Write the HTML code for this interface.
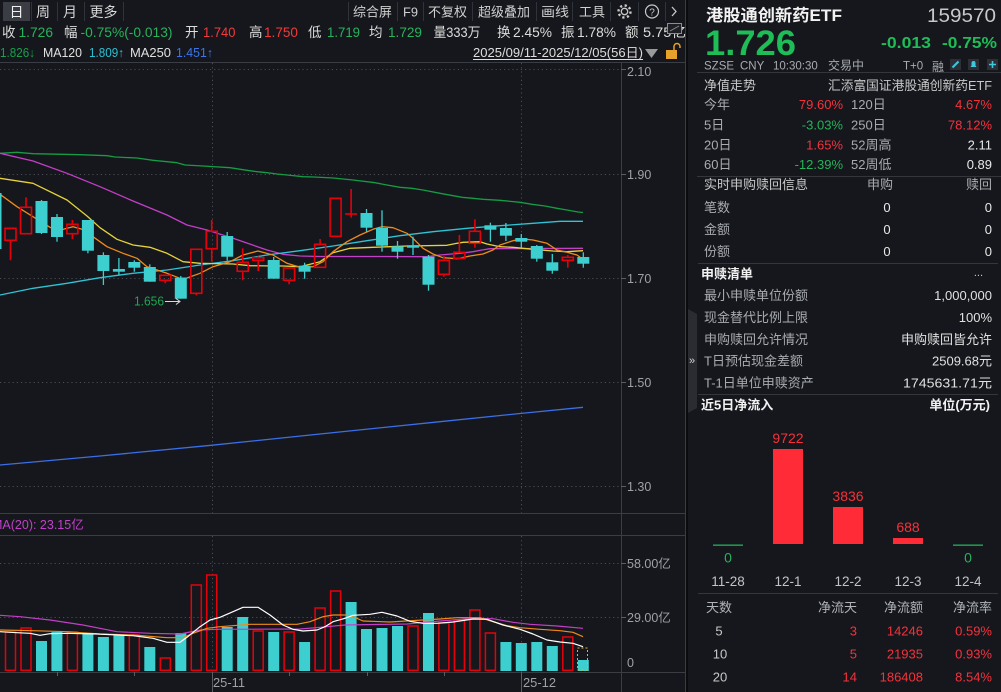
<!DOCTYPE html>
<html><head><meta charset="utf-8"><style>
html,body{margin:0;padding:0;background:#15171c;}
svg{display:block;}
</style></head><body>
<svg width="1001" height="692" viewBox="0 0 1001 692" xmlns="http://www.w3.org/2000/svg" font-family="'Liberation Sans','Noto Sans CJK SC',sans-serif">
<rect x="0" y="0" width="1001" height="692" fill="#15171c"/>

<!-- ===== Toolbar ===== -->
<rect x="3" y="2" width="27" height="19" fill="#3a3d44"/>
<g font-size="14" fill="#d8d8d8" text-anchor="middle">
<text x="16.5" y="17" fill="#f0f0f0">日</text>
<text x="43" y="17">周</text>
<text x="70" y="17">月</text>
<text x="103.5" y="17">更多</text>
</g>
<g stroke="#30333a" stroke-width="1">
<line x1="31.5" y1="2" x2="31.5" y2="21"/><line x1="57.5" y1="2" x2="57.5" y2="21"/>
<line x1="84.5" y1="2" x2="84.5" y2="21"/><line x1="123.5" y1="2" x2="123.5" y2="21"/>
<line x1="348.5" y1="2" x2="348.5" y2="21"/><line x1="397.5" y1="2" x2="397.5" y2="21"/>
<line x1="423.5" y1="2" x2="423.5" y2="21"/><line x1="472.5" y1="2" x2="472.5" y2="21"/>
<line x1="536.5" y1="2" x2="536.5" y2="21"/><line x1="572.5" y1="2" x2="572.5" y2="21"/>
<line x1="610.5" y1="2" x2="610.5" y2="21"/><line x1="638.5" y1="2" x2="638.5" y2="21"/>
<line x1="665.5" y1="2" x2="665.5" y2="21"/>
</g>
<g font-size="13" fill="#d0d0d0">
<text x="353" y="16.5" textLength="39" lengthAdjust="spacingAndGlyphs">综合屏</text>
<text x="403" y="16.5" textLength="15" lengthAdjust="spacingAndGlyphs">F9</text>
<text x="428" y="16.5" textLength="39" lengthAdjust="spacingAndGlyphs">不复权</text>
<text x="478" y="16.5" textLength="52" lengthAdjust="spacingAndGlyphs">超级叠加</text>
<text x="541" y="16.5" textLength="28" lengthAdjust="spacingAndGlyphs">画线</text>
<text x="579" y="16.5" textLength="26" lengthAdjust="spacingAndGlyphs">工具</text>
</g>
<circle cx="624.5" cy="11.5" r="6" fill="none" stroke="#c8c8c8" stroke-width="2.4" stroke-dasharray="2.2,2.5"/>
<circle cx="624.5" cy="11.5" r="3.2" fill="none" stroke="#c8c8c8" stroke-width="1.3"/>
<circle cx="652" cy="11.5" r="6.5" fill="none" stroke="#c8c8c8" stroke-width="1.2"/>
<text x="652" y="15.5" font-size="10" fill="#c8c8c8" text-anchor="middle">?</text>
<path d="M672,7 L676,11.5 L672,16" fill="none" stroke="#c8c8c8" stroke-width="1.3"/>

<!-- ===== Row 2 quote ===== -->
<g font-size="13.5">
<text x="2" y="37" fill="#dcdcdc">收</text>
<text x="18.5" y="37" fill="#27b35b" textLength="34.5" lengthAdjust="spacingAndGlyphs">1.726</text>
<text x="64" y="37" fill="#dcdcdc">幅</text>
<text x="80.5" y="37" fill="#27b35b" textLength="92" lengthAdjust="spacingAndGlyphs">-0.75%(-0.013)</text>
<text x="185" y="37" fill="#dcdcdc">开</text>
<text x="203" y="37" fill="#f23a3a" textLength="32.5" lengthAdjust="spacingAndGlyphs">1.740</text>
<text x="249" y="37" fill="#dcdcdc">高</text>
<text x="264" y="37" fill="#f23a3a" textLength="34" lengthAdjust="spacingAndGlyphs">1.750</text>
<text x="308" y="37" fill="#dcdcdc">低</text>
<text x="327" y="37" fill="#27b35b" textLength="33" lengthAdjust="spacingAndGlyphs">1.719</text>
<text x="369" y="37" fill="#dcdcdc">均</text>
<text x="388" y="37" fill="#27b35b" textLength="34" lengthAdjust="spacingAndGlyphs">1.729</text>
<text x="433.5" y="37" fill="#dcdcdc" textLength="47" lengthAdjust="spacingAndGlyphs">量333万</text>
<text x="497" y="37" fill="#dcdcdc">换</text>
<text x="513" y="37" fill="#dcdcdc" textLength="39" lengthAdjust="spacingAndGlyphs">2.45%</text>
<text x="561" y="37" fill="#dcdcdc">振</text>
<text x="577" y="37" fill="#dcdcdc" textLength="39" lengthAdjust="spacingAndGlyphs">1.78%</text>
<text x="625" y="37" fill="#dcdcdc">额</text>
<text x="643" y="37" fill="#dcdcdc" textLength="43" lengthAdjust="spacingAndGlyphs">5.75亿</text>
</g>
<rect x="667.5" y="23.5" width="14" height="10" fill="#1d1f24" stroke="#8a8d93" stroke-width="1"/>
<line x1="670" y1="31" x2="679" y2="26" stroke="#8a8d93" stroke-width="1"/>

<!-- ===== Row 3 MA legend ===== -->
<g font-size="12.5">
<text x="0" y="57" fill="#16a04c" textLength="35" lengthAdjust="spacingAndGlyphs">1.826↓</text>
<text x="43" y="57" fill="#e0e0e0" textLength="39" lengthAdjust="spacingAndGlyphs">MA120</text>
<text x="89" y="57" fill="#29c0d3" textLength="35" lengthAdjust="spacingAndGlyphs">1.809↑</text>
<text x="130" y="57" fill="#e0e0e0" textLength="41" lengthAdjust="spacingAndGlyphs">MA250</text>
<text x="176" y="57" fill="#3d74e8" textLength="37" lengthAdjust="spacingAndGlyphs">1.451↑</text>
<text x="473" y="57" fill="#dedede" textLength="170" lengthAdjust="spacingAndGlyphs">2025/09/11-2025/12/05(56日)</text>
</g>
<line x1="473" y1="59.5" x2="643" y2="59.5" stroke="#dedede" stroke-width="1"/>
<polygon points="645,49 658,49 651.5,58" fill="#9a9a9a"/>
<rect x="666" y="50" width="11" height="9" fill="#e8a12a"/>
<path d="M674,50 L674,46.5 A3,3 0 0 1 680,46.5 L680,48" fill="none" stroke="#e8a12a" stroke-width="1.5"/>

<!-- ===== Frame lines ===== -->
<g stroke="#3a3d43" stroke-width="1">
<line x1="0" y1="62.5" x2="685" y2="62.5"/>
<line x1="0" y1="513.5" x2="685" y2="513.5"/>
<line x1="0" y1="535.5" x2="685" y2="535.5"/>
<line x1="0" y1="672.5" x2="685" y2="672.5"/>
<line x1="621.5" y1="62" x2="621.5" y2="692"/>
<line x1="685.5" y1="0" x2="685.5" y2="692"/>
</g>
<rect x="686" y="0" width="2" height="692" fill="#0b0c0e"/>

<!-- grid dotted -->
<g stroke="#4a4d54" stroke-width="1" stroke-dasharray="1.2,3">
<line x1="0" y1="69.5" x2="621" y2="69.5"/>
<line x1="0" y1="174.5" x2="621" y2="174.5"/>
<line x1="0" y1="278.5" x2="621" y2="278.5"/>
<line x1="0" y1="382.5" x2="621" y2="382.5"/>
<line x1="0" y1="486.5" x2="621" y2="486.5"/>
<line x1="0" y1="563.5" x2="621" y2="563.5"/>
<line x1="0" y1="617.5" x2="621" y2="617.5"/>
<line x1="212.5" y1="63" x2="212.5" y2="513"/>
<line x1="521.5" y1="63" x2="521.5" y2="513"/>
<line x1="212.5" y1="536" x2="212.5" y2="672"/>
<line x1="521.5" y1="536" x2="521.5" y2="672"/>
</g>
<g stroke="#5a5d63" stroke-width="1">
<line x1="621" y1="69.5" x2="626" y2="69.5"/><line x1="621" y1="174.5" x2="626" y2="174.5"/>
<line x1="621" y1="278.5" x2="626" y2="278.5"/><line x1="621" y1="382.5" x2="626" y2="382.5"/>
<line x1="621" y1="486.5" x2="626" y2="486.5"/><line x1="621" y1="563.5" x2="626" y2="563.5"/>
<line x1="621" y1="617.5" x2="626" y2="617.5"/>
<line x1="57.5" y1="672" x2="57.5" y2="676"/><line x1="134.5" y1="672" x2="134.5" y2="676"/>
<line x1="289.5" y1="672" x2="289.5" y2="676"/><line x1="367.5" y1="672" x2="367.5" y2="676"/>
<line x1="444.5" y1="672" x2="444.5" y2="676"/>
<line x1="212.5" y1="672" x2="212.5" y2="692"/><line x1="521.5" y1="672" x2="521.5" y2="692"/>
</g>

<!-- axis labels -->
<g font-size="12.5" fill="#9ea1a6">
<text x="627" y="76">2.10</text>
<text x="627" y="179">1.90</text>
<text x="627" y="283">1.70</text>
<text x="627" y="387">1.50</text>
<text x="627" y="491">1.30</text>
<text x="627" y="568">58.00亿</text>
<text x="627" y="622">29.00亿</text>
<text x="627" y="667">0</text>
<text x="213" y="687" textLength="32" lengthAdjust="spacingAndGlyphs">25-11</text>
<text x="523" y="687" textLength="33" lengthAdjust="spacingAndGlyphs">25-12</text>
</g>
<text x="-8" y="529" font-size="12.5" fill="#c440cc">MA(20): 23.15亿</text>

<!-- ===== MA lines main ===== -->
<g fill="none" stroke-width="1.3" stroke-linejoin="round">
<polyline stroke="#159c44" points="0,153.3 17,152.3 33,153.7 80,154.7 107,155.7 115,157 137,158 153,160.3 167,161.7 177,162.7 185,165 203,166 230,167.7 243,169.7 257,171.7 267,172.7 277,174 287,175 303,176.7 314,177 333,178 353,180 375,182.7 387,185 400,187.3 412,188.3 423,190 442,193.7 462,197.3 473,198.3 483,199.3 500,200.3 520,202.3 532,204.3 545,206 557,208.3 567,210 578,212 583,212.5"/>
<polyline stroke="#c43ec8" points="0,153.3 33,161 67,173.3 100,186.7 133,201 167,215 187,225 207,230 233,238.3 267,250 283,254.3 300,256 320,256.5 380,256.5 427,256.7 440,255 460,253.3 473,251.7 482,250 490,248.7 583,248.3"/>
<polyline stroke="#2ec4d6" points="0,295 33,288.3 67,283.3 100,277.7 133,273.3 167,270 200,265 233,260.7 267,255 300,250.7 333,246 367,240.7 400,235.7 433,231.7 467,228.3 500,225.7 533,223.3 560,221.3 583,221.3"/>
<polyline stroke="#3b6fe6" points="0,465 100,456 211,445.3 320,434 440,421.7 520,413.5 583,407.3"/>
<polyline stroke="#e6d23a" points="0,178.3 33,183.3 67,200 87,216 100,227.7 117,239.3 133,245 150,247.3 167,253.3 183,261.7 200,263.3 233,264 250,265.7 283,266 300,266.7 320,261.7 333,252.7 350,248.3 373,247.3 390,246.7 407,246 447,245.3 457,243.3 463,242.3 480,241.7 487,244 500,246.7 513,247.3 533,249.3 553,251 567,251.7 583,250.7"/>
<polyline stroke="#f08a1a" points="0,194.3 17,206.7 33,216.7 50,227.3 58,230.7 67,228.3 73,226.7 82,229.3 93,236.7 107,246.7 123,253.3 137,258.3 147,266.7 157,270 167,273.3 180,278.3 187,278 200,273.3 213,266.7 230,261.7 243,255 258,251 273,255 287,263.3 300,267.3 313,266.7 323,261.7 333,251.7 347,241.7 360,235 373,229.3 382,226.7 393,227.7 407,233.3 413,238.3 423,248.3 433,254 443,257.7 457,258.7 470,256 483,254 493,250 500,245 513,240.7 523,239 533,240 547,243.3 557,250 567,252.3 577,255 583,259.3"/>
</g>

<!-- ===== Candles ===== -->
<rect x="0" y="193" width="1.5" height="56" fill="#3dcfcf"/>
<g stroke="#3dcfcf" stroke-width="1.3">
<line x1="41.5" y1="200" x2="41.5" y2="234"/>
<line x1="57" y1="214" x2="57" y2="241.7"/>
<line x1="87.9" y1="220" x2="87.9" y2="253.3"/>
<line x1="103.4" y1="252.3" x2="103.4" y2="285"/>
<line x1="118.9" y1="258" x2="118.9" y2="275"/>
<line x1="134.3" y1="260.3" x2="134.3" y2="271.7"/>
<line x1="149.8" y1="264.3" x2="149.8" y2="281.7"/>
<line x1="180.8" y1="276" x2="180.8" y2="298.7"/>
<line x1="227.2" y1="232" x2="227.2" y2="260.7"/>
<line x1="273.7" y1="257" x2="273.7" y2="278.7"/>
<line x1="304.6" y1="262.7" x2="304.6" y2="278.7"/>
<line x1="366.5" y1="209" x2="366.5" y2="231.7"/>
<line x1="382" y1="210.3" x2="382" y2="251.7"/>
<line x1="397.5" y1="241" x2="397.5" y2="258.7"/>
<line x1="413" y1="236.7" x2="413" y2="255"/>
<line x1="428.5" y1="255" x2="428.5" y2="290.7"/>
<line x1="490.4" y1="222.7" x2="490.4" y2="241.7"/>
<line x1="505.9" y1="223" x2="505.9" y2="241"/>
<line x1="521.3" y1="234" x2="521.3" y2="247.7"/>
<line x1="536.8" y1="245" x2="536.8" y2="261.7"/>
<line x1="552.3" y1="254" x2="552.3" y2="273.7"/>
<line x1="583.3" y1="252.3" x2="583.3" y2="267.7"/>
</g>
<g fill="#3dcfcf">
<rect x="35.5" y="201" width="12" height="32"/>
<rect x="51" y="217" width="12" height="20"/>
<rect x="81.9" y="220" width="12" height="30.7"/>
<rect x="97.4" y="255" width="12" height="16"/>
<rect x="112.9" y="269" width="12" height="2.7"/>
<rect x="128.3" y="262" width="12" height="5.7"/>
<rect x="143.8" y="267" width="12" height="14.7"/>
<rect x="174.8" y="277.7" width="12" height="21"/>
<rect x="221.2" y="236" width="12" height="20.7"/>
<rect x="267.7" y="260" width="12" height="18.7"/>
<rect x="298.6" y="265.7" width="12" height="6"/>
<rect x="360.5" y="213" width="12" height="14.7"/>
<rect x="376" y="228" width="12" height="17.7"/>
<rect x="391.5" y="246.3" width="12" height="5.4"/>
<rect x="407" y="245.3" width="12" height="2.4"/>
<rect x="422.5" y="256.7" width="12" height="28"/>
<rect x="484.4" y="225.3" width="12" height="4.4"/>
<rect x="499.9" y="228" width="12" height="7.7"/>
<rect x="515.3" y="238" width="12" height="3.7"/>
<rect x="530.8" y="246" width="12" height="12.7"/>
<rect x="546.3" y="262.3" width="12" height="8.4"/>
<rect x="577.3" y="257" width="12" height="6.7"/>
</g>
<g stroke="#e6000c" stroke-width="1.6" fill="none">
<line x1="10.5" y1="240.3" x2="10.5" y2="260.3"/>
<rect x="5" y="228.3" width="11" height="12"/>
<line x1="26" y1="197.3" x2="26" y2="207.3"/>
<rect x="20.5" y="207.3" width="11" height="26.4"/>
<line x1="72.4" y1="220" x2="72.4" y2="224.3"/><line x1="72.4" y1="233.7" x2="72.4" y2="239"/>
<rect x="66.9" y="224.3" width="11" height="9.4"/>
<line x1="165.3" y1="280.3" x2="165.3" y2="283.3"/>
<rect x="159.8" y="275.3" width="11" height="5"/>
<line x1="196.3" y1="293.3" x2="196.3" y2="295.3"/>
<rect x="190.8" y="249.3" width="11" height="44"/>
<line x1="211.7" y1="220" x2="211.7" y2="231.3"/><line x1="211.7" y1="248.7" x2="211.7" y2="261.7"/>
<rect x="206.2" y="231.3" width="11" height="17.4"/>
<line x1="242.7" y1="248.3" x2="242.7" y2="262.3"/><line x1="242.7" y1="271.3" x2="242.7" y2="280.3"/>
<rect x="237.2" y="262.3" width="11" height="9"/>
<line x1="258.2" y1="256.3" x2="258.2" y2="257.7"/><line x1="258.2" y1="260.3" x2="258.2" y2="271"/>
<rect x="252.7" y="257.7" width="11" height="2.6"/>
<line x1="289.1" y1="280.3" x2="289.1" y2="284.3"/>
<rect x="283.6" y="268" width="11" height="12.3"/>
<line x1="320.1" y1="239" x2="320.1" y2="244.3"/>
<rect x="314.6" y="244.3" width="11" height="23"/>
<rect x="330.1" y="198.3" width="11" height="38"/>
<line x1="351.1" y1="189" x2="351.1" y2="217.7"/>
<line x1="345.1" y1="214" x2="357.1" y2="214"/>
<line x1="443.9" y1="256" x2="443.9" y2="260.3"/><line x1="443.9" y1="274.3" x2="443.9" y2="276.7"/>
<rect x="438.4" y="260.3" width="11" height="14"/>
<line x1="459.4" y1="235" x2="459.4" y2="252.3"/><line x1="459.4" y1="258.3" x2="459.4" y2="259.3"/>
<rect x="453.9" y="252.3" width="11" height="6"/>
<line x1="474.9" y1="219.3" x2="474.9" y2="231.3"/><line x1="474.9" y1="243.3" x2="474.9" y2="247.7"/>
<rect x="469.4" y="231.3" width="11" height="12"/>
<line x1="567.8" y1="255" x2="567.8" y2="257.3"/><line x1="567.8" y1="260.3" x2="567.8" y2="267.7"/>
<rect x="562.3" y="257.3" width="11" height="3"/>
</g>
<text x="134" y="305.5" font-size="12.5" fill="#1fa552" textLength="30" lengthAdjust="spacingAndGlyphs">1.656</text>
<line x1="165" y1="301.5" x2="180" y2="301.5" stroke="#d8d8d8" stroke-width="1"/>
<path d="M176,298.5 L180,301.5 L176,304.5" fill="none" stroke="#d8d8d8" stroke-width="1"/>

<!-- ===== Volume bars ===== -->
<g fill="#3dcfcf">
<rect x="36" y="641" width="11" height="30"/>
<rect x="51.4" y="632" width="11" height="39"/>
<rect x="82.4" y="633" width="11" height="38"/>
<rect x="97.9" y="637" width="11" height="34"/>
<rect x="113.4" y="635" width="11" height="36"/>
<rect x="144.3" y="647" width="11" height="24"/>
<rect x="175.3" y="633" width="11" height="38"/>
<rect x="221.7" y="627" width="11" height="44"/>
<rect x="237.2" y="617" width="11" height="54"/>
<rect x="268.2" y="632" width="11" height="39"/>
<rect x="299.1" y="642" width="11" height="29"/>
<rect x="345.6" y="602" width="11" height="69"/>
<rect x="361" y="629" width="11" height="42"/>
<rect x="376.5" y="628" width="11" height="43"/>
<rect x="392" y="626" width="11" height="45"/>
<rect x="423" y="613" width="11" height="58"/>
<rect x="500.4" y="642" width="11" height="29"/>
<rect x="515.8" y="643" width="11" height="28"/>
<rect x="531.3" y="642" width="11" height="29"/>
<rect x="546.8" y="646" width="11" height="25"/>
<rect x="577.8" y="660" width="11" height="11"/>
</g>
<g fill="none" stroke="#e6000c" stroke-width="1.5">
<rect x="5.5" y="632" width="10" height="38.3"/>
<rect x="21" y="628" width="10" height="42.3"/>
<rect x="67.4" y="632" width="10" height="38.3"/>
<rect x="129.3" y="635" width="10" height="35.3"/>
<rect x="160.3" y="658" width="10" height="12.3"/>
<rect x="191.3" y="585" width="10" height="85.3"/>
<rect x="206.7" y="575" width="10" height="95.3"/>
<rect x="253.2" y="631" width="10" height="39.3"/>
<rect x="284.1" y="632" width="10" height="38.3"/>
<rect x="315.1" y="608" width="10" height="62.3"/>
<rect x="330.6" y="591" width="10" height="79.3"/>
<rect x="408" y="626" width="10" height="44.3"/>
<rect x="438.9" y="623" width="10" height="47.3"/>
<rect x="454.4" y="620" width="10" height="50.3"/>
<rect x="469.9" y="610" width="10" height="60.3"/>
<rect x="485.4" y="633" width="10" height="37.3"/>
<rect x="562.8" y="637" width="10" height="33.3"/>
</g>
<rect x="577.5" y="648" width="10" height="22" fill="none" stroke="#e8b020" stroke-width="1" stroke-dasharray="2,2"/>

<!-- volume MA lines -->
<g fill="none" stroke-width="1.2" stroke-linejoin="round">
<polyline stroke="#c43ec8" points="0,615.3 20,616.7 50,620 83,625 117,631.7 150,633.3 180,634 200,630 217,629.3 300,629 320,627.3 345,625 407,624 440,621 473,618.3 493,618.7 513,622.3 530,624.3 557,626 583,628.3"/>
<polyline stroke="#f08a1a" points="0,630 33,630.7 67,631.7 100,634 133,635 167,637.7 183,637.7 193,633.3 207,628.3 220,626.7 250,624.3 297,624.3 310,621.7 323,616.7 333,615 345,615 353,616.7 363,621 390,622 423,620 440,619 457,617.7 480,617.7 493,621.7 507,625.7 520,627.7 540,629.3 560,630.7 573,632.3 583,636.7"/>
<polyline stroke="#ffffff" points="0,631.7 17,632.7 30,633.3 40,635.3 50,633.7 67,633.3 97,634 133,635.7 153,638.3 167,642.3 180,642.3 187,637.3 200,626.7 210,620 220,617.3 233,611.7 243,607.3 258,607.3 270,615 283,625 293,629.3 303,631 317,630 325,626.7 333,621.7 345,618.3 353,615.3 370,614.3 382,612.3 397,616 410,621.3 423,623.3 437,623.3 453,622 473,619 487,619.3 503,625 520,629.3 533,634 547,640 560,642 573,643.3 583,646.7"/>
</g>

<!-- collapse handle -->
<path d="M688,309 L697,314 L697,408 L688,413 Z" fill="#2a2c31"/>
<text x="689" y="364" font-size="11" fill="#cfcfcf">»</text>

<!-- ===== Right panel ===== -->
<text x="706" y="21" font-size="16.5" font-weight="bold" fill="#f2f2f2" textLength="136" lengthAdjust="spacingAndGlyphs">港股通创新药ETF</text>
<text x="996" y="22" font-size="19" fill="#c8c8c8" text-anchor="end" textLength="69" lengthAdjust="spacingAndGlyphs">159570</text>
<text x="705" y="55" font-size="35" font-weight="bold" fill="#1ebd57" textLength="91" lengthAdjust="spacingAndGlyphs">1.726</text>
<text x="881" y="48" font-size="16" font-weight="bold" fill="#1ebd57" textLength="50" lengthAdjust="spacingAndGlyphs">-0.013</text>
<text x="942" y="48" font-size="16" font-weight="bold" fill="#1ebd57" textLength="55" lengthAdjust="spacingAndGlyphs">-0.75%</text>
<g font-size="11.5" fill="#a8abb0">
<text x="704" y="69.5">SZSE</text>
<text x="740" y="69.5">CNY</text>
<text x="773" y="69.5">10:30:30</text>
<text x="828" y="69.5" font-size="12">交易中</text>
<text x="903" y="69.5">T+0</text>
<text x="932" y="71" font-size="12">融</text>
</g>
<rect x="950" y="59" width="11" height="11" fill="#2c2f36"/>
<path d="M952.5,67.5 L958.5,61.5" stroke="#3ec8e0" stroke-width="2"/>
<rect x="968" y="59" width="11" height="11" fill="#2c2f36"/>
<path d="M970.5,67 L976.5,67 L975.5,65.5 L975.5,63 A2,2 0 0 0 971.5,63 L971.5,65.5 Z" fill="#3ec8e0"/>
<rect x="987" y="59" width="11" height="11" fill="#2c2f36"/>
<path d="M992.5,61 L992.5,68 M989,64.5 L996,64.5" stroke="#3ec8e0" stroke-width="1.6"/>

<g stroke="#34363c" stroke-width="1">
<line x1="697" y1="72.5" x2="1001" y2="72.5"/>
<line x1="697" y1="176.5" x2="1001" y2="176.5"/>
<line x1="698" y1="263.5" x2="998" y2="263.5"/>
<line x1="698" y1="394.5" x2="998" y2="394.5"/>
<line x1="698" y1="593.5" x2="998" y2="593.5"/>
</g>

<g font-size="13">
<text x="704" y="90" fill="#c8c8c8">净值走势</text>
<text x="992" y="90" fill="#c8c8c8" text-anchor="end" textLength="164" lengthAdjust="spacingAndGlyphs">汇添富国证港股通创新药ETF</text>
<text x="704" y="109" fill="#a8abb0">今年</text>
<text x="843" y="109" fill="#f5323c" text-anchor="end">79.60%</text>
<text x="851" y="109" fill="#a8abb0">120日</text>
<text x="992" y="109" fill="#f5323c" text-anchor="end">4.67%</text>
<text x="704" y="129.5" fill="#a8abb0">5日</text>
<text x="843" y="129.5" fill="#24b35a" text-anchor="end">-3.03%</text>
<text x="851" y="129.5" fill="#a8abb0">250日</text>
<text x="992" y="129.5" fill="#f5323c" text-anchor="end">78.12%</text>
<text x="704" y="149.5" fill="#a8abb0">20日</text>
<text x="843" y="149.5" fill="#f5323c" text-anchor="end">1.65%</text>
<text x="851" y="149.5" fill="#a8abb0">52周高</text>
<text x="992" y="149.5" fill="#e8e8e8" text-anchor="end">2.11</text>
<text x="704" y="169" fill="#a8abb0">60日</text>
<text x="843" y="169" fill="#24b35a" text-anchor="end">-12.39%</text>
<text x="851" y="169" fill="#a8abb0">52周低</text>
<text x="992" y="169" fill="#e8e8e8" text-anchor="end">0.89</text>

<text x="704" y="189" fill="#c8c8c8">实时申购赎回信息</text>
<text x="880" y="189" fill="#a8abb0" text-anchor="middle">申购</text>
<text x="992" y="189" fill="#a8abb0" text-anchor="end">赎回</text>
<text x="704" y="212" fill="#a8abb0">笔数</text>
<text x="887" y="212" fill="#e8e8e8" text-anchor="middle">0</text>
<text x="992" y="212" fill="#e8e8e8" text-anchor="end">0</text>
<text x="704" y="234" fill="#a8abb0">金额</text>
<text x="887" y="234" fill="#e8e8e8" text-anchor="middle">0</text>
<text x="992" y="234" fill="#e8e8e8" text-anchor="end">0</text>
<text x="704" y="256" fill="#a8abb0">份额</text>
<text x="887" y="256" fill="#e8e8e8" text-anchor="middle">0</text>
<text x="992" y="256" fill="#e8e8e8" text-anchor="end">0</text>

<text x="701" y="278.5" fill="#f2f2f2" font-weight="bold">申赎清单</text>
<text x="983" y="276" fill="#c8c8c8" text-anchor="end" font-size="11">...</text>
<text x="704" y="300" fill="#a8abb0">最小申赎单位份额</text>
<text x="992" y="300" fill="#e0e0e0" text-anchor="end">1,000,000</text>
<text x="704" y="322" fill="#a8abb0">现金替代比例上限</text>
<text x="992" y="322" fill="#e0e0e0" text-anchor="end">100%</text>
<text x="704" y="344" fill="#a8abb0">申购赎回允许情况</text>
<text x="992" y="344" fill="#e0e0e0" text-anchor="end">申购赎回皆允许</text>
<text x="704" y="365.5" fill="#a8abb0">T日预估现金差额</text>
<text x="992" y="365.5" fill="#e0e0e0" text-anchor="end">2509.68元</text>
<text x="704" y="387.5" fill="#a8abb0">T-1日单位申赎资产</text>
<text x="992" y="387.5" fill="#e0e0e0" text-anchor="end" textLength="89" lengthAdjust="spacingAndGlyphs">1745631.71元</text>
<text x="701" y="409.5" fill="#f2f2f2" font-weight="bold">近5日净流入</text>
<text x="990" y="409.5" fill="#f2f2f2" font-weight="bold" text-anchor="end">单位(万元)</text>
</g>

<!-- flow bar chart -->
<rect x="713" y="544.5" width="30" height="1.3" fill="#24b35a"/>
<rect x="953" y="544.5" width="30" height="1.3" fill="#24b35a"/>
<rect x="773" y="449" width="30" height="95" fill="#ff2b37"/>
<rect x="833" y="507" width="30" height="37" fill="#ff2b37"/>
<rect x="893" y="538" width="30" height="6" fill="#ff2b37"/>
<g font-size="14" text-anchor="middle">
<text x="788" y="443" fill="#f5323c">9722</text>
<text x="848" y="501" fill="#f5323c">3836</text>
<text x="908" y="532" fill="#f5323c">688</text>
<text x="728" y="562.5" fill="#24b35a">0</text>
<text x="968" y="562.5" fill="#24b35a">0</text>
</g>
<g font-size="13.5" text-anchor="middle" fill="#c0c3c8">
<text x="728" y="586">11-28</text>
<text x="788" y="586">12-1</text>
<text x="848" y="586">12-2</text>
<text x="908" y="586">12-3</text>
<text x="968" y="586">12-4</text>
</g>
<g font-size="13">
<text x="706" y="612" fill="#b0b3b8">天数</text>
<text x="857" y="612" fill="#b0b3b8" text-anchor="end">净流天</text>
<text x="923" y="612" fill="#b0b3b8" text-anchor="end">净流额</text>
<text x="992" y="612" fill="#b0b3b8" text-anchor="end">净流率</text>
<text x="719" y="635.5" fill="#c8c8c8" text-anchor="middle">5</text>
<text x="857" y="635.5" fill="#f5323c" text-anchor="end">3</text>
<text x="923" y="635.5" fill="#f5323c" text-anchor="end">14246</text>
<text x="992" y="635.5" fill="#f5323c" text-anchor="end">0.59%</text>
<text x="720" y="658.5" fill="#c8c8c8" text-anchor="middle">10</text>
<text x="857" y="658.5" fill="#f5323c" text-anchor="end">5</text>
<text x="923" y="658.5" fill="#f5323c" text-anchor="end">21935</text>
<text x="992" y="658.5" fill="#f5323c" text-anchor="end">0.93%</text>
<text x="720" y="681.5" fill="#c8c8c8" text-anchor="middle">20</text>
<text x="857" y="681.5" fill="#f5323c" text-anchor="end">14</text>
<text x="923" y="681.5" fill="#f5323c" text-anchor="end">186408</text>
<text x="992" y="681.5" fill="#f5323c" text-anchor="end">8.54%</text>
</g>
</svg>
</body></html>
